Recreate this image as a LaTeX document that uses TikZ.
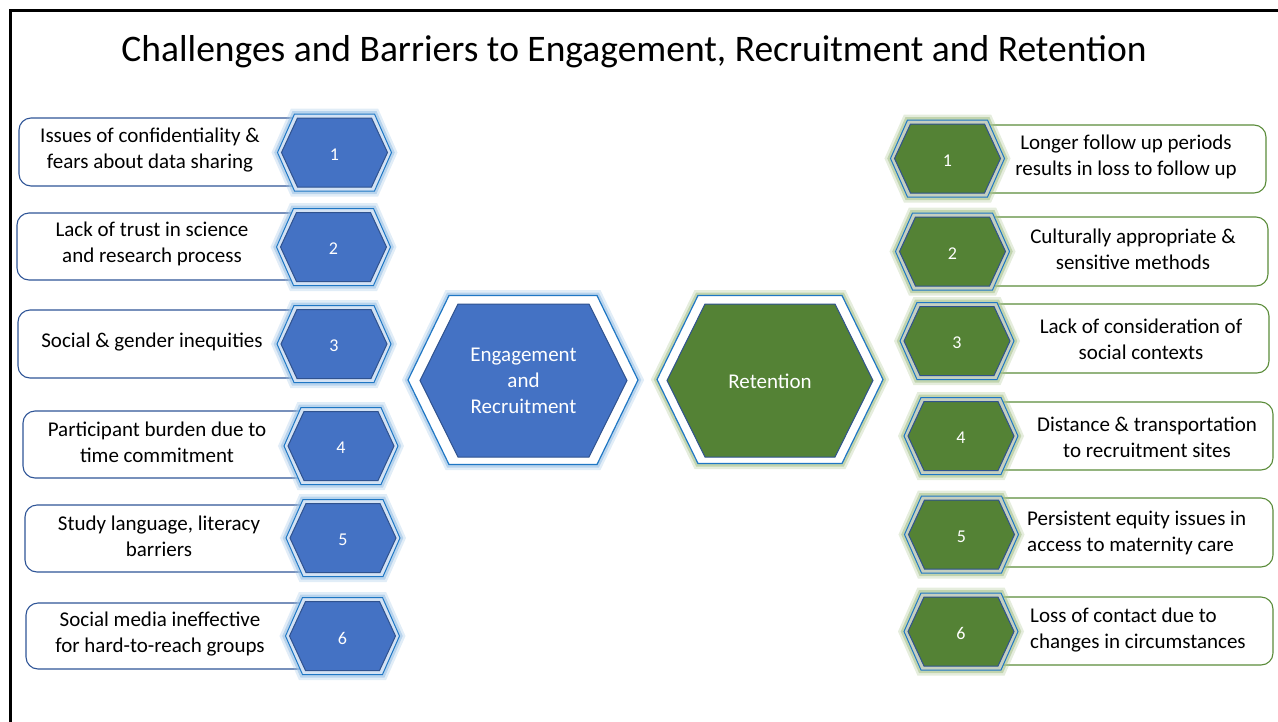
\documentclass[tikz,border=0pt]{standalone}
\usepackage{fontspec}
\setmainfont{Carlito}
\usepackage{xcolor}
\definecolor{hexblue}{HTML}{4472C4}
\definecolor{hexline}{HTML}{2F528F}
\definecolor{ringblue}{HTML}{1F77C4}
\definecolor{glowblue}{HTML}{9DC3E6}
\definecolor{gapblue}{HTML}{D3E2F4}
\definecolor{hexgreen}{HTML}{548235}
\definecolor{glowgreen}{HTML}{A9C48F}
\definecolor{gapgreen}{HTML}{C4CFC0}
\definecolor{boxblue}{HTML}{2F5597}
\definecolor{boxgreen}{HTML}{5B8C3A}
% hexagon: centre x, centre y, half width, half height, slant
\newcommand{\hexpath}[5]{(#1-#3,#2) -- (#1-#3+#5,#2-#4) -- (#1+#3-#5,#2-#4) -- (#1+#3,#2) -- (#1+#3-#5,#2+#4) -- (#1-#3+#5,#2+#4) -- cycle}
% small numbered hexagons
\newcommand{\smallhex}[5]{%
  \draw[#4glow, draw=ringblue, fill=gap#4, line width=1pt] \hexpath{#1}{#2}{57}{38.5}{17};
  \draw[fill=hex#4, draw=hexline, line width=1pt] \hexpath{#1}{#2}{53}{34.5}{16};
  \node[num] (#5) at (#1,#2+2) {#3};}

\begin{document}
\begin{tikzpicture}[x=1pt,y=-1pt,
		item/.style={align=center, font=\fontsize{21}{26}\selectfont},
		num/.style={font=\fontsize{18}{22}\selectfont, text=white},
		leftbox/.style={draw=boxblue, line width=1.1pt, rounded corners=12pt, fill=white},
		rightbox/.style={draw=boxgreen, line width=1.1pt, rounded corners=12pt, fill=white},
		blueglow/.style={preaction={draw=glowblue, line width=11pt, opacity=0.3},
			preaction={draw=glowblue, line width=6pt, opacity=0.6}},
		greenglow/.style={preaction={draw=glowgreen, line width=11pt, opacity=0.3},
			preaction={draw=glowgreen, line width=6pt, opacity=0.6}}]
		\useasboundingbox (0,0) rectangle (1278,721);
		\draw[line width=2.7pt] (10.7,760) -- (10.7,10.7) -- (1320,10.7);
		\node[font=\fontsize{37.5}{42}\selectfont] (title) at (634,52) {Challenges and Barriers to Engagement, Recruitment and Retention};
		% left boxes
		\draw[leftbox] (19,118) rectangle (334,186);
		\draw[leftbox] (17,213) rectangle (334,280);
		\draw[leftbox] (18,310) rectangle (334,378);
		\draw[leftbox] (23,411) rectangle (341,478);
		\draw[leftbox] (25,505) rectangle (343,572);
		\draw[leftbox] (26,603) rectangle (343,669);
		\node[item] (lt1) at (150,150) {Issues of confidentiality \&\\fears about data sharing};
		\node[item] (lt2) at (152,244) {Lack of trust in science\\and research process};
		\node[item] (lt3) at (152,342) {Social \& gender inequities};
		\node[item] (lt4) at (157,442) {Participant burden due to\\time commitment};
		\node[item] (lt5) at (159,536) {Study language, literacy\\barriers};
		\node[item] (lt6) at (160,634) {Social media ineffective\\for hard-to-reach groups};
		\smallhex{334.5}{152.5}{1}{blue}{lh1}
		\smallhex{333.5}{247}{2}{blue}{lh2}
		\smallhex{334}{344}{3}{blue}{lh3}
		\smallhex{341}{446}{4}{blue}{lh4}
		\smallhex{343}{538}{5}{blue}{lh5}
		\smallhex{342.5}{636}{6}{blue}{lh6}
		% right boxes
		\draw[rightbox] (947,125) rectangle (1266,193);
		\draw[rightbox] (952,217) rectangle (1268,286);
		\draw[rightbox] (957,304) rectangle (1269,373);
		\draw[rightbox] (961,402) rectangle (1273,470);
		\draw[rightbox] (961,498) rectangle (1273,567);
		\draw[rightbox] (961,597) rectangle (1273,665);
		\node[item] (rt1) at (1126,157) {Longer follow up periods\\results in loss to follow up};
		\node[item] (rt2) at (1133,249) {Culturally appropriate \&\\sensitive methods};
		\node[item] (rt3) at (1141,339) {Lack of consideration of\\social contexts};
		\node[item] (rt4) at (1147,437) {Distance \& transportation\\to recruitment sites};
		\node[item, align=left, anchor=west, inner sep=0pt] (rt5) at (1027,533) {Persistent equity issues in\\access to maternity care};
		\node[item, align=left, anchor=west, inner sep=0pt] (rt6) at (1030,630) {Loss of contact due to\\changes in circumstances};
		\smallhex{947.5}{158.5}{1}{green}{rh1}
		\smallhex{952.5}{251.5}{2}{green}{rh2}
		\smallhex{957}{341}{3}{green}{rh3}
		\smallhex{961}{436}{4}{green}{rh4}
		\smallhex{961.5}{534.5}{5}{green}{rh5}
		\smallhex{961}{631.5}{6}{green}{rh6}
		% centre hexagons
		\draw[blueglow, draw=ringblue, fill=white, line width=1.2pt] \hexpath{523}{380}{115}{84.5}{41};
		\draw[fill=hexblue, draw=hexline, line width=1pt] \hexpath{523.5}{380.5}{103.5}{76.5}{38};
		\node[item, text=white] (engage) at (523.5,381) {Engagement\\and\\Recruitment};
		\draw[greenglow, draw=ringblue, fill=white, line width=1.2pt] \hexpath{770}{379.5}{113}{84}{41};
		\draw[fill=hexgreen, draw=hexline, line width=1pt] \hexpath{770}{380.5}{103}{76.5}{38};
		\node[item, text=white] (retain) at (770,381) {Retention};
\end{tikzpicture}
\end{document}
